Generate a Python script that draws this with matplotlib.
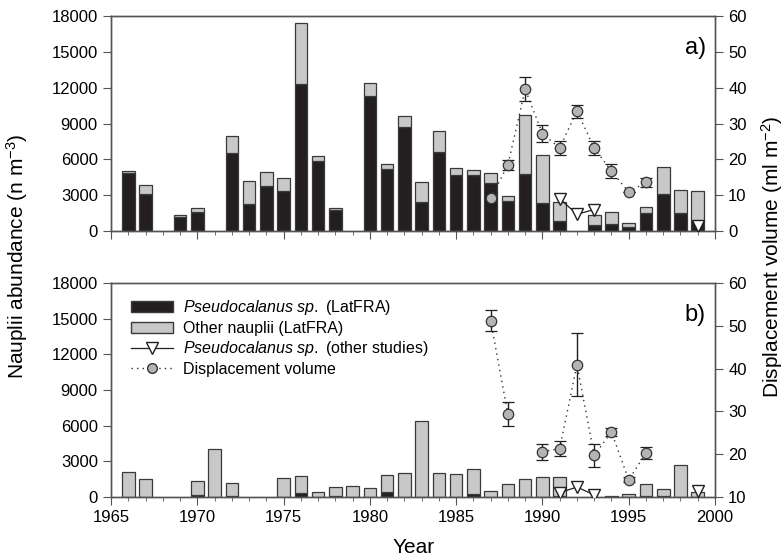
import numpy as np
import matplotlib.pyplot as plt
from matplotlib.lines import Line2D
from matplotlib.patches import Patch
from matplotlib.ticker import MultipleLocator

plt.rcParams["font.family"] = ["Liberation Sans", "DejaVu Sans"]
plt.rcParams["font.size"] = 12
plt.rcParams["mathtext.fontset"] = "custom"
plt.rcParams["mathtext.it"] = "Liberation Sans:italic"
plt.rcParams["mathtext.rm"] = "Liberation Sans"

years = np.arange(1966, 2000)
nan = np.nan

# panel a (LatFRA, n m-3)
pseudo_a = [4850, 3100, nan, 1170, 1600, nan, 6500, 2250, 3770, 3350, 12300, 5850,
            1790, nan, 11300, 5170, 8720, 2400, 6620, 4700, 4700, 4000, 2520, 4750,
            2350, 800, nan, 480, 590, 320, 1500, 3130, 1490, 800]
other_a = [150, 750, nan, 180, 350, nan, 1500, 1900, 1180, 1050, 5100, 400,
           110, nan, 1100, 480, 880, 1700, 1730, 550, 380, 880, 430, 5000,
           4000, 1650, nan, 820, 1010, 360, 500, 2270, 1930, 2550]

# panel b
pseudo_b = [0, 0, nan, nan, 170, 0, 80, nan, nan, 0, 340, 0,
            60, 0, 0, 420, 0, 0, 0, 0, 250, 0, 0, 0,
            0, 60, nan, nan, 80, 0, 80, 60, 0, 0]
other_b = [2130, 1490, nan, nan, 1150, 4070, 1070, nan, nan, 1630, 1430, 450,
           750, 900, 730, 1430, 1990, 6360, 2050, 1960, 2080, 530, 1120, 1510,
           1680, 1590, nan, nan, 0, 240, 1030, 600, 2700, 460]

# Pseudocalanus sp. from other studies
other_years = np.arange(1991, 2000)
other_studies_a = [2700, 1400, 1800, nan, nan, nan, nan, nan, 450]
other_studies_b = [360, 840, 170, nan, nan, nan, nan, nan, 490]

# displacement volume (ml m-2)
dv_years = np.arange(1987, 1997)
dv_a = [9.1, 18.5, 39.6, 27.2, 23.2, 33.5, 23.2, 16.7, 10.9, 13.6]
dv_a_err = [0, 1.4, 3.3, 2.4, 2.0, 1.8, 2.0, 2.0, 0, 1.3]
dv_b = [51.2, 29.3, nan, 20.6, 21.3, 40.9, 19.7, 25.2, 14.0, 20.3]
dv_b_err = [2.4, 2.8, nan, 1.9, 1.7, 7.4, 2.6, 1.0, 0.6, 1.5]

BLACK = "#231f20"
GREY = "#c8c8c8"
EDGE = "#3a3a3a"
SPINE = "#555555"

fig = plt.figure(figsize=(7.84, 5.58), dpi=100)
ax_a = fig.add_axes([0.1416, 0.586, 0.7704, 0.385])
ax_b = fig.add_axes([0.1416, 0.1093, 0.7704, 0.3835])


def draw_panel(ax, pseudo, other, tri, dv, dv_err, rlim, label):
    pseudo = np.array(pseudo, dtype=float)
    other = np.array(other, dtype=float)
    m = ~np.isnan(pseudo)
    mp = m & (pseudo > 0)
    ax.bar(years[mp], pseudo[mp], width=0.73, color=BLACK, edgecolor=EDGE,
           linewidth=0.9, zorder=2)
    mo = m & (other > 0)
    ax.bar(years[mo], other[mo], bottom=np.nan_to_num(pseudo)[mo], width=0.73,
           color=GREY, edgecolor=EDGE, linewidth=0.9, zorder=2)
    ax.set_xlim(1965, 2000)
    ax.set_ylim(0, 18000)
    ax.set_yticks(np.arange(0, 18001, 3000))
    ax.xaxis.set_major_locator(MultipleLocator(5))
    ax.xaxis.set_minor_locator(MultipleLocator(1))
    ax.tick_params(axis="x", which="major", direction="out", length=6, color=SPINE)
    ax.tick_params(axis="x", which="minor", direction="out", length=3, color=SPINE)
    ax.tick_params(axis="y", direction="out", length=6, color=SPINE)
    for s in ax.spines.values():
        s.set_color(SPINE)
        s.set_linewidth(1)

    ax2 = ax.twinx()
    ax2.set_ylim(*rlim)
    ax2.set_yticks(np.arange(rlim[0], rlim[1] + 1, 10))
    ax2.tick_params(axis="y", direction="out", length=6, color=SPINE)
    for s in ax2.spines.values():
        s.set_color(SPINE)
        s.set_linewidth(1)

    # triangles on the left scale, drawn on top
    tri = np.array(tri, dtype=float)
    ax2.plot(other_years, tri, color=BLACK, linewidth=0.9, marker="v",
             markersize=9, markerfacecolor="white", markeredgecolor=BLACK,
             transform=ax.transData, zorder=4)

    dv = np.array(dv, dtype=float)
    ax2.plot(dv_years, dv, linestyle=(0, (1, 3)), color="#333333", linewidth=1,
             zorder=3)
    ax2.errorbar(dv_years, dv, yerr=dv_err, fmt="o", markersize=7.5,
                 markerfacecolor="#b4b4b4", markeredgecolor="#333333",
                 markeredgewidth=0.9, ecolor=BLACK, elinewidth=1, capsize=4,
                 capthick=1, zorder=5)
    ax2.text(0.985, 0.85, label, transform=ax2.transAxes, ha="right",
             va="center", fontsize=17)
    return ax2


ax2_a = draw_panel(ax_a, pseudo_a, other_a, other_studies_a, dv_a, dv_a_err,
                   (0, 60), "a)")
ax2_b = draw_panel(ax_b, pseudo_b, other_b, other_studies_b, dv_b, dv_b_err,
                   (10, 60), "b)")
ax_a.tick_params(axis="x", labelbottom=False)

handles = [
    Patch(facecolor=BLACK, edgecolor=EDGE),
    Patch(facecolor=GREY, edgecolor=EDGE),
    Line2D([], [], color=BLACK, linewidth=0.9, marker="v", markersize=9,
           markerfacecolor="white", markeredgecolor=BLACK),
    Line2D([], [], color="#333333", linestyle=(0, (1, 3)), linewidth=1,
           marker="o", markersize=7, markerfacecolor="#b4b4b4",
           markeredgecolor="#333333"),
]
labels = [
    "$\\it{Pseudocalanus\\ sp.}$ (LatFRA)",
    "Other nauplii (LatFRA)",
    "$\\it{Pseudocalanus\\ sp.}$ (other studies)",
    "Displacement volume",
]
ax2_b.legend(handles, labels, loc="upper left", bbox_to_anchor=(0.01, 0.995),
             frameon=False, fontsize=11.5, handlelength=2.6, labelspacing=0.22,
             handletextpad=0.6)

fig.text(0.022, 0.54, "Nauplii abundance (n m$^{-3}$)", rotation=90,
         ha="center", va="center", fontsize=15)
fig.text(0.985, 0.54, "Displacement volume (ml m$^{-2}$)", rotation=90,
         ha="center", va="center", fontsize=15)
fig.text(0.527, 0.018, "Year", ha="center", va="center", fontsize=15)

fig.savefig("out.png", dpi=100)
